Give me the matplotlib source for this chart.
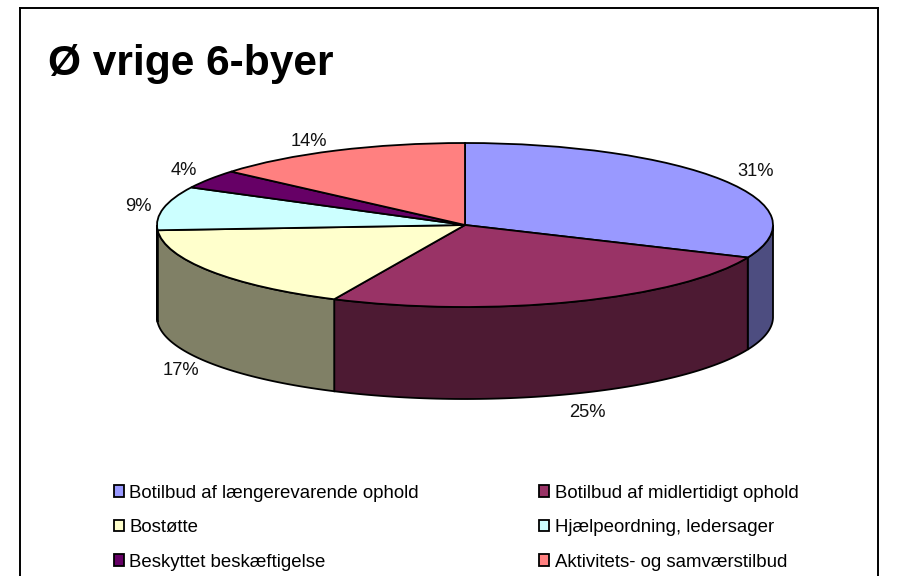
import numpy as np
import matplotlib
matplotlib.use('Agg')
import matplotlib.pyplot as plt

plt.rcParams['font.family'] = ['Liberation Sans', 'DejaVu Sans']

categories = ['Botilbud af længerevarende ophold', 'Botilbud af midlertidigt ophold',
              'Bostøtte', 'Hjælpeordning, ledersager',
              'Beskyttet beskæftigelse', 'Aktivitets- og samværstilbud']
values = [31.49, 25.49, 17.0, 8.6, 3.7, 13.72]
colors = ['#9999FF', '#993366', '#FFFFCC', '#CCFFFF', '#660066', '#FF8080']
wall_colors = ['#4D4D80', '#4D1A33', '#808066', '#668080', '#330033', '#804040']

# layout, all in pixels of the 898x576 picture
W, H = 898, 576
left, right, top = 20, 878, 8
cx, cy, rx, ry = 465, 225, 308, 82
depth = 92 / ry
label_radius = 1.12
label_nudge = [(2, 3), (0, -10), (1, -2), (11, 0), (5, 3), (-12, 0)]

fig = plt.figure(figsize=(W / 100, H / 100), dpi=100)
ax = fig.add_axes([left / W, 0, (right - left) / W, (H - top) / H])

wedges, _ = ax.pie(values, colors=colors, startangle=90, counterclock=False, frame=True,
                   wedgeprops={'edgecolor': 'black', 'linewidth': 1.3, 'zorder': 3})
ax.set_aspect('auto')
ax.set_xlim((left - cx) / rx, (right - cx) / rx)
ax.set_ylim((cy - H) / ry, (cy - top) / ry)
ax.set_xticks([])
ax.set_yticks([])
ax.spines['bottom'].set_visible(False)
for s in ax.spines.values():
    s.set_linewidth(1.4)

# side wall of the cake, only the front half can be seen
edges = 90 - 360 * np.cumsum([0] + values) / sum(values)
for a1, a2, c in zip(edges[:-1], edges[1:], wall_colors):
    lo, hi = max(a2, -180), min(a1, 0)
    if lo >= hi:
        continue
    t = np.radians(np.linspace(lo, hi, 80))
    xs = np.cos(t)
    ys = np.sin(t)
    ax.fill(np.r_[xs, xs[::-1]], np.r_[ys, ys[::-1] - depth], facecolor=c,
            edgecolor='black', linewidth=1.3, zorder=2)

# percent labels
mids = (edges[:-1] + edges[1:]) / 2
for v, m, (dx, dy) in zip(values, mids, label_nudge):
    sy = np.sin(np.radians(m))
    y = label_radius * sy - (depth if sy < 0 else 0)
    ax.annotate(f'{v:.0f}%', (label_radius * np.cos(np.radians(m)), y),
                xytext=(dx * 0.72, dy * 0.72), textcoords='offset points',
                ha='center', va='center', fontsize=13.2, color='#111111')

ax.text((48 - left) / (right - left), 1 - (64 - top) / (H - top), 'Ø vrige 6-byer',
        transform=ax.transAxes, fontsize=30.6, fontweight='bold', ha='left', va='center')

# legend fills column by column, the reference reads row by row
order = [0, 2, 4, 1, 3, 5]
ax.legend([wedges[i] for i in order], [categories[i] for i in order], ncol=2, frameon=False,
          fontsize=13.4, loc='upper left',
          bbox_to_anchor=((108 - left) / (right - left), 1 - (479 - top) / (H - top)),
          handlelength=0.55, handleheight=0.55, handletextpad=0.3,
          columnspacing=6.45, labelspacing=0.94, borderpad=0.3, borderaxespad=0)

fig.savefig('out.png', dpi=100)
